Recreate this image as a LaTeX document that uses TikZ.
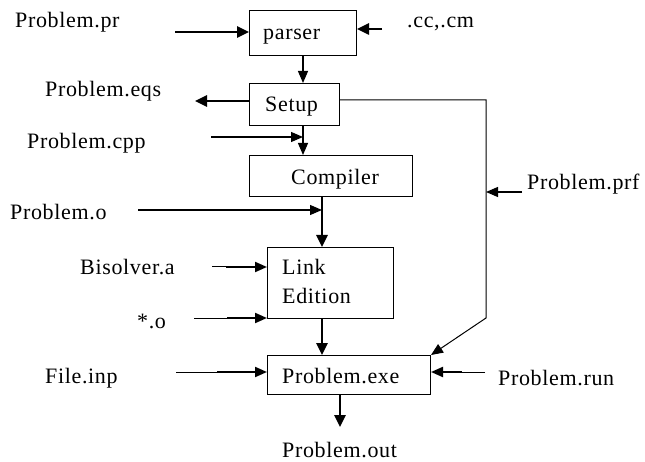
\documentclass[tikz,border=0pt]{standalone}
\usepackage{fontspec}
\setmainfont[LetterSpace=3]{Liberation Serif}
\usetikzlibrary{arrows.meta}
\begin{document}
\begin{tikzpicture}[x=1pt,y=-1pt,
  lbl/.style={anchor=base west, inner sep=0pt, font=\fontsize{22}{28}\selectfont},
  box/.style={draw, line width=1pt, anchor=north west, inner sep=0pt},
  thinarrow/.style={line width=1.2pt, -{Triangle[length=12pt,width=10pt]}},
  midarrow/.style={line width=2pt, -{Triangle[length=12pt,width=10pt]}},
  thickarrow/.style={line width=2.5pt, -{Triangle[length=12pt,width=11pt]}},
  plainline/.style={line width=1pt}
]
\useasboundingbox (0,0) rectangle (645,462);

% process boxes
\node[box, minimum width=107pt, minimum height=45pt] (parser) at (249,10) {};
\node[box, minimum width=90pt, minimum height=42pt] (setup) at (249,83) {};
\node[box, minimum width=163pt, minimum height=41pt] (compiler) at (249,155) {};
\node[box, minimum width=126pt, minimum height=71pt] (link) at (267,247) {};
\node[box, minimum width=163pt, minimum height=39pt] (exe) at (267,355) {};

% box captions
\node[lbl] (tparser) at (263,40) {parser};
\node[lbl] (tsetup) at (265,112) {Setup};
\node[lbl] (tcompiler) at (291,185) {Compiler};
\node[lbl] (tlink) at (282,275) {Link};
\node[lbl] (tedition) at (282,303) {Edition};
\node[lbl] (texe) at (282,383) {Problem.exe};

% file labels
\node[lbl] (pr) at (15,28) {Problem.pr};
\node[lbl] (cc) at (407,28) {.cc,.cm};
\node[lbl] (eqs) at (45,97) {Problem.eqs};
\node[lbl] (cpp) at (27,149) {Problem.cpp};
\node[lbl] (po) at (10,220) {Problem.o};
\node[lbl] (bis) at (80,275) {Bisolver.a};
\node[lbl] (stars) at (137,328) {*.o};
\node[lbl] (inp) at (45,383) {File.inp};
\node[lbl] (run) at (498,385) {Problem.run};
\node[lbl] (prf) at (527,190) {Problem.prf};
\node[lbl] (out) at (282,457) {Problem.out};

% connector anchor points
\coordinate (prstart) at (175,32);
\coordinate (ccstart) at (382,29);
\coordinate (eqsend) at (195,101);
\coordinate (cppstart) at (211,137);
\coordinate (mainx) at (322,0);
\coordinate (postart) at (138,210);
\coordinate (bisstart) at (212,267);
\coordinate (bismid) at (226,267);
\coordinate (ostart) at (194,318);
\coordinate (omid) at (227,318);
\coordinate (inpstart) at (176,372);
\coordinate (inpmid) at (217,372);
\coordinate (runstart) at (485,372);
\coordinate (runmid) at (462,372);
\coordinate (prfstart) at (522,192);
\coordinate (sidetop) at (486,100);
\coordinate (sidebend) at (486,318);
\coordinate (outend) at (340,427);

% main flow
\draw[thickarrow] (prstart) -- (prstart -| parser.west);
\draw[thickarrow] (ccstart) -- (ccstart -| parser.east);
\draw[thinarrow] (parser.south) -- (setup.north -| parser.south);
\draw[thickarrow] (eqsend -| setup.west) -- (eqsend);
\draw[thinarrow] (setup.south -| parser.south) -- (compiler.north -| parser.south);
\draw[thinarrow] (cppstart) -- (cppstart -| parser.south);
\draw[thickarrow] (compiler.south -| mainx) -- (link.north -| mainx);
\draw[thinarrow] (postart) -- (postart -| mainx);
\draw[plainline] (bisstart) -- (bismid);
\draw[midarrow] (bismid) -- (bismid -| link.west);
\draw[plainline] (ostart) -- (omid);
\draw[midarrow] (omid) -- (omid -| link.west);
\draw[thickarrow] (link.south -| mainx) -- (exe.north -| mainx);
\draw[plainline] (inpstart) -- (inpmid);
\draw[midarrow] (inpmid) -- (inpmid -| exe.west);
\draw[plainline] (runstart) -- (runmid);
\draw[midarrow] (runmid) -- (runmid -| exe.east);
\draw[thickarrow] (exe.south -| outend) -- (outend);

% side path from Setup to the executable
\draw[plainline, -{Triangle[length=12pt,width=10pt]}] (sidetop -| setup.east) -- (sidetop) -- (sidebend) -- (exe.north east);
\draw[thinarrow] (prfstart) -- (prfstart -| sidetop);
\end{tikzpicture}
\end{document}
